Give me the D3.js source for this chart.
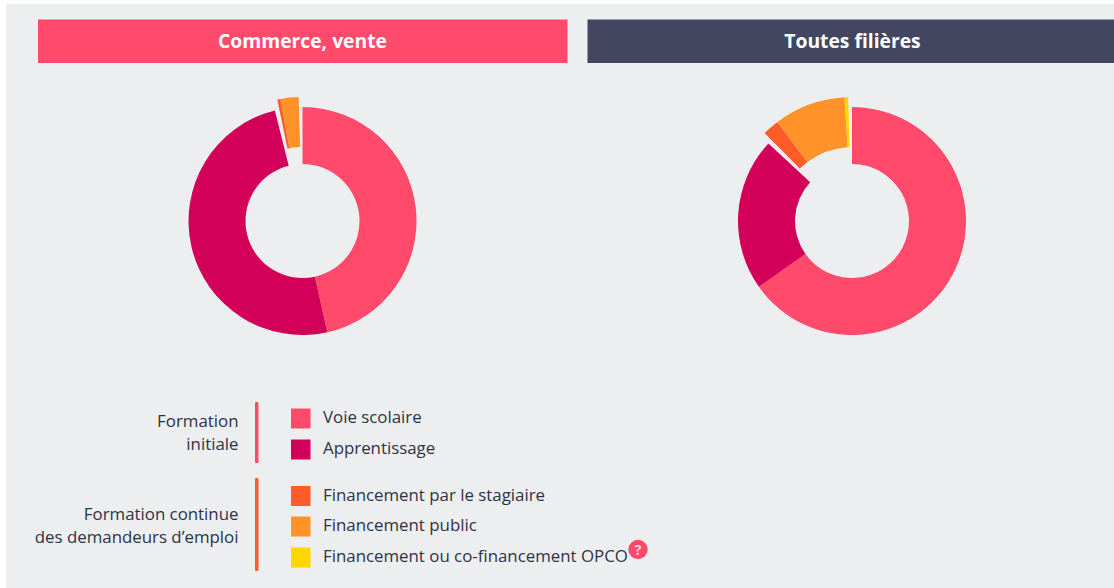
<!DOCTYPE html>
<html lang="fr">
  <head>
    <meta charset="UTF-8" />
    <title>Commerce, vente / Toutes filières</title>
    <script src="https://d3js.org/d3.v7.min.js"></script>
    <style>
      html, body { margin: 0; padding: 0; background: #fff; overflow: hidden; }
      svg { display: block; font-family: "Open Sans", sans-serif; }
    </style>
  </head>
  <body>
    <script>
      const seriesNames = ["Voie scolaire", "Apprentissage", "Financement par le stagiaire", "Financement public", "Financement ou co-financement OPCO"];
      const colors = ["#ff4a6b", "#d30059", "#ff5c28", "#ff9228", "#ffd600"];
      const panelTitles = ["Commerce, vente", "Toutes filières"];
      const panelColors = ["#ff4a6b", "#424660"];

      // share of each series, in percent
      const commerceValues = [46.5, 49.6, 0.6, 3.3, 0];
      const toutesValues = [65.2, 21.7, 2.4, 10.2, 0.5];

      const legendGroups = [
        { lines: ["Formation", "initiale"], color: "#ff4a6b", items: [0, 1] },
        { lines: ["Formation continue", "des demandeurs d’emploi"], color: "#ff5c28", items: [2, 3, 4] },
      ];

      const width = 1114;
      const height = 588;

      const svg = d3.select("body").append("svg").attr("width", width).attr("height", height);

      // grey panel
      svg.append("rect").attr("x", 6).attr("y", 4).attr("width", width - 6).attr("height", height - 4).attr("fill", "#edeef0");

      // headers
      const headers = [
        { x: 38, w: 529.5 },
        { x: 587.5, w: 527 },
      ];
      headers.forEach((h, i) => {
        svg.append("rect").attr("x", h.x).attr("y", 19.5).attr("width", h.w).attr("height", 43.5).attr("fill", panelColors[i]);
        svg
          .append("text")
          .attr("x", i === 0 ? 302.5 : 852.5)
          .attr("y", 48)
          .attr("text-anchor", "middle")
          .attr("fill", "#fff")
          .style("font-size", "19.3px")
          .style("font-weight", 700)
          .text(panelTitles[i]);
      });

      // the last three series sit apart from the first two, a bit further out
      const padBefore = (2.3 * Math.PI) / 180;
      const padAfter = (1.8 * Math.PI) / 180;

      const arc = d3.arc().innerRadius(57).outerRadius(114);
      const arcOut = d3.arc().innerRadius(74).outerRadius(124);

      function drawDonut(values, cx, cy) {
        const g = svg.append("g").attr("transform", `translate(${cx},${cy})`);

        const restTotal = d3.sum(values.slice(2));
        const outer = d3.pie().sort(null)([values[0], values[1], restTotal]);

        const inner = d3
          .pie()
          .sort(null)
          .startAngle(outer[2].startAngle + padBefore)
          .endAngle(outer[2].endAngle - padAfter)(values.slice(2));

        outer.slice(0, 2).forEach((d, i) => {
          g.append("path").attr("d", arc(d)).attr("fill", colors[i]);
        });
        inner.forEach((d, i) => {
          if (values[i + 2] === 0) return;
          g.append("path").attr("d", arcOut(d)).attr("fill", colors[i + 2]);
        });
      }

      drawDonut(commerceValues, 302.5, 221);
      drawDonut(toutesValues, 852, 221);

      // legend
      const groupLayout = [
        { top: 402, bottom: 463, textY: [426.5, 450], itemY: [418.5, 449.5] },
        { top: 478, bottom: 571, textY: [519.5, 543], itemY: [496, 526.5, 557.5] },
      ];

      legendGroups.forEach((group, gi) => {
        const l = groupLayout[gi];
        svg.append("rect").attr("x", 255).attr("y", l.top).attr("width", 3.5).attr("height", l.bottom - l.top).attr("rx", 1).attr("fill", group.color);
        group.lines.forEach((t, i) => {
          svg.append("text").attr("x", 238.5).attr("y", l.textY[i]).attr("text-anchor", "end").attr("fill", "#2d3345").style("font-size", "16.85px").text(t);
        });
        group.items.forEach((s, i) => {
          const y = l.itemY[i];
          svg.append("rect").attr("x", 291).attr("y", y - 10).attr("width", 19.5).attr("height", 20).attr("fill", colors[s]);
          svg.append("text").attr("x", 323).attr("y", y + 4.5).attr("fill", "#2d3345").style("font-size", "16.85px").text(seriesNames[s]);
        });
      });

      // help badge next to the OPCO label
      svg.append("circle").attr("cx", 638).attr("cy", 549.5).attr("r", 9.7).attr("fill", "#ff4a6b");
      svg.append("text").attr("x", 638).attr("y", 554.5).attr("text-anchor", "middle").attr("fill", "#ffd0da").style("font-size", "14px").style("font-weight", 700).text("?");
    </script>
  </body>
</html>
